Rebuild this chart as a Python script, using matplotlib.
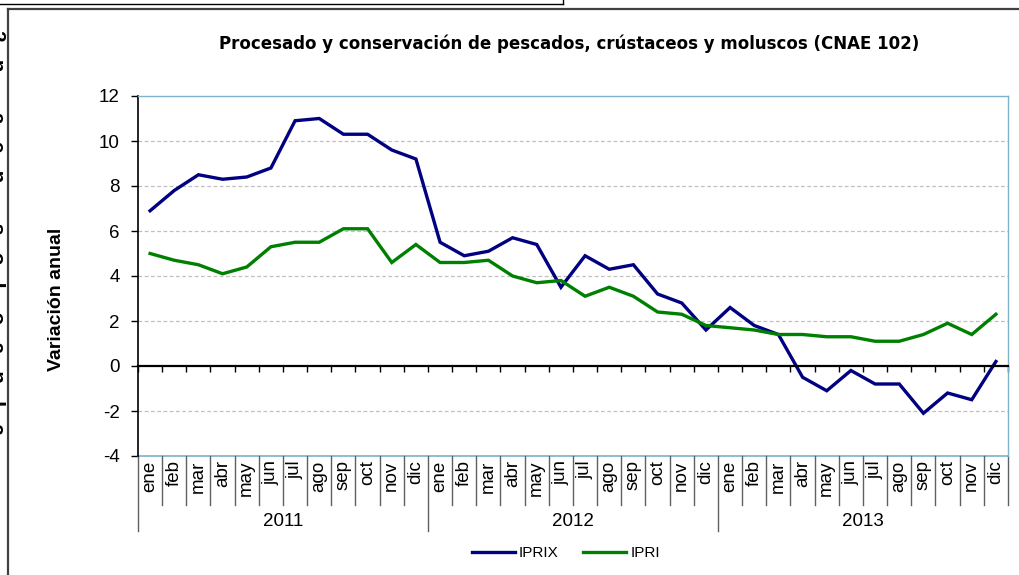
import numpy as np
import matplotlib
matplotlib.use("Agg")
import matplotlib.pyplot as plt
from matplotlib.lines import Line2D

plt.rcParams['font.family'] = ['Liberation Sans', 'DejaVu Sans']

# data
years = ["2011", "2012", "2013"]
months = ["ene", "feb", "mar", "abr", "may", "jun",
          "jul", "ago", "sep", "oct", "nov", "dic"]
iprix = [6.9, 7.8, 8.5, 8.3, 8.4, 8.8, 10.9, 11.0, 10.3, 10.3, 9.6, 9.2,
         5.5, 4.9, 5.1, 5.7, 5.4, 3.5, 4.9, 4.3, 4.5, 3.2, 2.8, 1.6,
         2.6, 1.8, 1.4, -0.5, -1.1, -0.2, -0.8, -0.8, -2.1, -1.2, -1.5, 0.2]
ipri = [5.0, 4.7, 4.5, 4.1, 4.4, 5.3, 5.5, 5.5, 6.1, 6.1, 4.6, 5.4,
        4.6, 4.6, 4.7, 4.0, 3.7, 3.8, 3.1, 3.5, 3.1, 2.4, 2.3, 1.8,
        1.7, 1.6, 1.4, 1.4, 1.3, 1.3, 1.1, 1.1, 1.4, 1.9, 1.4, 2.3]
yticks = [-4, -2, 0, 2, 4, 6, 8, 10, 12]

W, H = 1020, 575
def fx(x):
    return x / W
def fy(y):
    return 1 - y / H

blue = "#000080"
green = "#008000"
frame_blue = "#7fb0cc"

fig = plt.figure(figsize=(W / 100, H / 100), dpi=100)
ax = fig.add_axes([fx(138), fy(456), (1008 - 138) / W, (456 - 96) / H])

n = len(iprix)
x = np.arange(n)
l1, = ax.plot(x, iprix, color=blue, lw=2.4, solid_joinstyle='miter', label="IPRIX")
l2, = ax.plot(x, ipri, color=green, lw=2.4, solid_joinstyle='miter', label="IPRI")

ax.set_xlim(-0.5, n - 0.5)
ax.set_ylim(yticks[0], yticks[-1])
ax.set_yticks(yticks)
ax.set_yticklabels([str(v) for v in yticks], fontsize=13.5)
for v in yticks:
    if v not in (0, yticks[0], yticks[-1]):
        ax.axhline(v, color="#c0c0c0", lw=0.9, ls=(0, (3, 2)), zorder=0)

# frame: black left axis, light blue box, x axis at zero
ax.spines['left'].set_color("black")
ax.spines['left'].set_linewidth(1.2)
for s in ('top', 'right'):
    ax.spines[s].set_color(frame_blue)
    ax.spines[s].set_linewidth(1.0)
ax.spines['bottom'].set_position(('data', 0))
ax.spines['bottom'].set_color("black")
ax.spines['bottom'].set_linewidth(1.6)
ax.axhline(yticks[0], color=frame_blue, lw=1.2, clip_on=False)
ax.set_xticks(np.arange(n + 1) - 0.5)
ax.tick_params(axis='x', direction='out', length=4, width=1, labelbottom=False)
ax.tick_params(axis='y', direction='out', length=5, width=1, pad=8)

# category axis below the plot
tr = ax.get_xaxis_transform()
labels = months * len(years)
for i, m in enumerate(labels):
    ax.text(i, -0.012, m, rotation=90, ha='center', va='top', fontsize=13.5,
            transform=tr, clip_on=False)
for b in range(n + 1):
    bottom = -0.208 if (b % 12 == 0 and b < n) else -0.136
    ax.add_line(Line2D([b - 0.5, b - 0.5], [0, bottom], transform=tr,
                       color="#606060", lw=1, clip_on=False))
for k, yr in enumerate(years):
    ax.text(k * 12 + 5.5, -0.183, yr, ha='center', va='center', fontsize=13.5,
            transform=tr)

ax.set_ylabel("Variación anual", fontsize=14, fontweight='bold')
ax.yaxis.set_label_coords((65 - 138) / 870, (456 - 299) / 360)

fig.text(fx(569), fy(44), "Procesado y conservación de pescados, crústaceos y moluscos (CNAE 102)",
         ha='center', va='center', fontsize=12, fontweight='bold', family='DejaVu Sans')

fig.legend(handles=[l1, l2], loc='center', bbox_to_anchor=(fx(566), fy(553)),
           ncol=2, frameon=False, fontsize=11, handlelength=2.8, handletextpad=0.3,
           columnspacing=1.6)

# page frame around the chart, with a clipped piece of the page text
fig.add_artist(Line2D([fx(8), fx(8)], [fy(9), 0], color="#404040", lw=1.6))
fig.add_artist(Line2D([fx(8), 1], [fy(9), fy(9)], color="#404040", lw=1.6))
fig.add_artist(Line2D([0, fx(563)], [fy(4), fy(4)], color="black", lw=1.0))
fig.add_artist(Line2D([fx(563), fx(563)], [fy(4), 1], color="black", lw=1.0))
fig.text(fx(-4), fy(232), "2   n   ,   a   e   n   ,   s   o   L   o   a   n   I   a", rotation=270,
         ha='center', va='center', fontsize=15, fontweight='bold')

fig.savefig("out.png", dpi=100)
